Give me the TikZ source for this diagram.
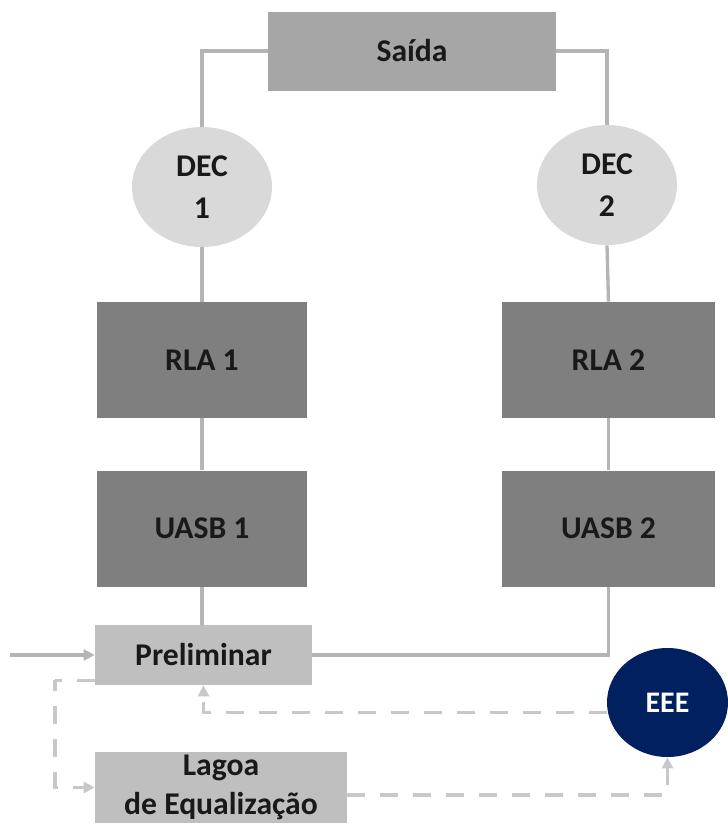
\documentclass[tikz,border=0pt]{standalone}
\usepackage{fontspec}
\setmainfont{Carlito}
\usepackage{tikz}
\usetikzlibrary{shapes,arrows.meta,positioning,calc}

\definecolor{saidagray}{HTML}{A6A6A6}
\definecolor{decgray}{HTML}{D9D9D9}
\definecolor{reactgray}{HTML}{7F7F7F}
\definecolor{pregray}{HTML}{BFBFBF}
\definecolor{linegray}{HTML}{B4B4B4}
\definecolor{dashgray}{HTML}{C8C8C8}
\definecolor{eeeblue}{HTML}{002060}

\tikzset{
    unitbox/.style={draw=none, inner sep=0pt, align=center, font=\fontsize{18}{21}\selectfont\bfseries, text=black!90},
    decnode/.style={ellipse, fill=decgray, minimum width=2.8cm, minimum height=2.4cm, inner sep=0pt, align=center, font=\fontsize{18}{24}\selectfont\bfseries, text=black!90},
    pipe/.style={draw=linegray, line width=1.9pt},
    recirc/.style={draw=dashgray, line width=1.9pt, dash pattern=on 0.36cm off 0.3cm},
    tip/.style={-{Triangle[length=2.2mm,width=2.2mm]}}
}

\begin{document}
\begin{tikzpicture}
    \useasboundingbox (0,0) rectangle (14.56,-16.5);

    % Exit
    \node[unitbox, fill=saidagray, minimum width=5.76cm, minimum height=1.58cm] (sai) at (8.24,-1.02) {Saída};

    % Decanters
    \node[decnode] (dec1) at (4.04,-3.74) {DEC\\1};
    \node[decnode] (dec2) at (12.14,-3.7) {DEC\\2};

    % Reactors
    \node[unitbox, fill=reactgray, minimum width=4.2cm, minimum height=2.32cm] (rla1) at (4.04,-7.2) {RLA 1};
    \node[unitbox, fill=reactgray, minimum width=4.26cm, minimum height=2.32cm] (rla2) at (12.17,-7.2) {RLA 2};
    \node[unitbox, fill=reactgray, minimum width=4.2cm, minimum height=2.32cm] (uasb1) at (4.04,-10.57) {UASB 1};
    \node[unitbox, fill=reactgray, minimum width=4.26cm, minimum height=2.32cm] (uasb2) at (12.17,-10.57) {UASB 2};

    % Pretreatment and equalization
    \node[unitbox, fill=pregray, minimum width=4.34cm, minimum height=1.2cm] (prel) at (4.07,-13.1) {Preliminar};
    \node[unitbox, fill=pregray, minimum width=5.04cm, minimum height=1.42cm, font=\fontsize{18}{22}\selectfont\bfseries] (lagoa) at (4.42,-15.75) {Lagoa\\de Equalização};
    \node[ellipse, fill=eeeblue, minimum width=2.42cm, minimum height=2.18cm, inner sep=0pt, text=white, font=\fontsize{17}{20}\selectfont\bfseries] (eee) at (13.35,-14.05) {EEE};

    % Main line
    \coordinate (in) at (0.2,-13.1);
    \draw[pipe, tip] (in) -- (prel.west);
    \draw[pipe] (prel.north -| uasb1.south) -- (uasb1.south);
    \draw[pipe] (uasb1) -- (rla1);
    \draw[pipe] (rla1) -- (dec1);
    \draw[pipe] (dec1.north) |- (sai.west);
    \draw[pipe] (prel.east) -| (uasb2.south);
    \draw[pipe] (uasb2) -- (rla2);
    \draw[pipe] (rla2.north) -- (dec2.south);
    \draw[pipe] (dec2.north) |- (sai.east);

    % Equalization loop
    \coordinate (bypass) at (1.1,-13.6);
    \draw[recirc, tip] ([yshift=0.1cm]prel.south west) -| (bypass) |- (lagoa.west);
    \draw[recirc, tip] ([yshift=-0.15cm]lagoa.east) -| (eee.south);
    \draw[recirc, tip] ([yshift=-0.2cm]eee.west) -| (prel.south);
\end{tikzpicture}
\end{document}
